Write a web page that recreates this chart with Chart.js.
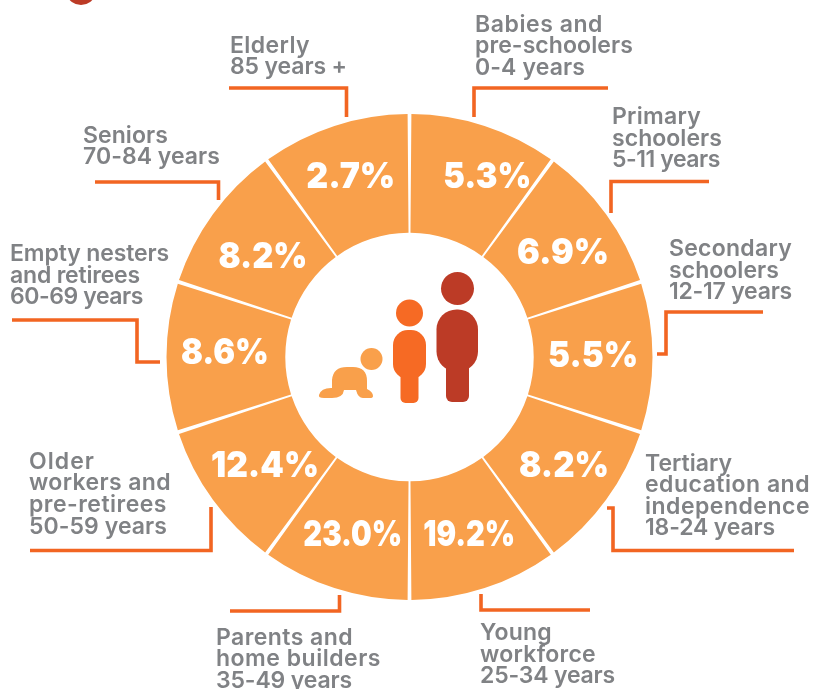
<!DOCTYPE html>
<html><head><meta charset="utf-8">
<style>html,body{margin:0;padding:0;background:#fff}canvas{display:block}</style>
<script src="https://cdn.jsdelivr.net/npm/chart.js@4/dist/chart.umd.min.js"></script>
</head><body><canvas id="c" width="814" height="689"></canvas>
<script>
// Data (clockwise from 12 o'clock)
const lifeStages = ["Babies and pre-schoolers 0-4 years","Primary schoolers 5-11 years","Secondary schoolers 12-17 years","Tertiary education and independence 18-24 years","Young workforce 25-34 years","Parents and home builders 35-49 years","Older workers and pre-retirees 50-59 years","Empty nesters and retirees 60-69 years","Seniors 70-84 years","Elderly 85 years +"];
const sharePercent = [5.3,6.9,5.5,8.2,19.2,23.0,12.4,8.6,8.2,2.7];
// The picture draws every life stage as an equal wedge, whatever its share.
const wedgeWeights = [1,1,1,1,1,1,1,1,1,1];

// Layout and style only
const valueNudge = [[21,-5],[5,4],[0,-1],[6,1],[3,4],[0,4],[4,1],[-1,-4],[2,8],[-2,-5]];
const valueWidths = [88,92,90,90,92,99,108,88,89,89];
const calloutLines = [
 {x:475,y:[32,53,75],r:[603,633,585],t:["Babies and","pre-schoolers","0-4 years"]},
 {x:612,y:[124,146,167],r:[701,722,720],t:["Primary","schoolers","5-11 years"]},
 {x:669,y:[256,278,299],r:[792,779,792],t:["Secondary","schoolers","12-17 years"]},
 {x:645,y:[471,492,514,535],r:[732,810,810,775],t:["Tertiary","education and","independence","18-24 years"]},
 {x:480,y:[640,662,683],r:[552,596,615],t:["Young","workforce","25-34 years"]},
 {x:216,y:[645,666,688],r:[353,381,352],t:["Parents and","home builders","35-49 years"]},
 {x:29,y:[469,490,512,534],r:[95,171,167,167],t:["Older","workers and","pre-retirees","50-59 years"]},
 {x:10,y:[261,283,304],r:[169,140,143],t:["Empty nesters","and retirees","60-69 years"]},
 {x:83,y:[143,164],r:[168,220],t:["Seniors","70-84 years"]},
 {x:230,y:[53,74],r:[310,347],t:["Elderly","85 years +"]}
];
const leaderPaths = [
 [[474,117],[474,88],[608,88]],
 [[611,213],[611,181.5],[709,181.5]],
 [[763,312],[666,312],[666,354],[657,354]],
 [[607,508],[613,508],[613,550.5],[794,550.5]],
 [[481,594],[481,610],[590,610]],
 [[230,611],[339.5,611],[339.5,595]],
 [[211,507],[211,550.5],[30,550.5]],
 [[12,320],[137,320],[137,362],[160,362]],
 [[95,182],[218.5,182],[218.5,200]],
 [[229,88],[346.5,88],[346.5,117]]
];
const ORANGE="#F9A04B", LEADER="#F26522", GREY="#808285", RUST="#BC3B26";

function rr(ctx,x,y,w,h,r){ctx.beginPath();ctx.roundRect(x,y,w,h,r);ctx.fill();}
function circle(ctx,x,y,r){ctx.beginPath();ctx.arc(x,y,r,0,Math.PI*2);ctx.fill();}
function drawPeople(ctx){
  ctx.fillStyle=RUST;
  circle(ctx,457.5,288.5,16.5);
  rr(ctx,436.5,309.5,41.5,62,[20,20,20,20]);
  rr(ctx,446,360,23,42,[0,0,6,6]);
  ctx.fillStyle="#F66A24";
  circle(ctx,409.5,313,13.5);
  rr(ctx,393,330,33,49,[15,15,15,15]);
  rr(ctx,400.5,365,18,38,[0,0,5,5]);
  ctx.fillStyle=ORANGE;
  circle(ctx,371.5,359,11);
  ctx.beginPath();
  ctx.moveTo(332,398);
  ctx.lineTo(324,398);
  ctx.quadraticCurveTo(318,398,319,395);
  ctx.quadraticCurveTo(321,388,331,388);
  ctx.lineTo(332,388);
  ctx.lineTo(332,380);
  ctx.quadraticCurveTo(333,367,347,367);
  ctx.lineTo(353,367);
  ctx.quadraticCurveTo(367,367,367,381);
  ctx.lineTo(367,389);
  ctx.quadraticCurveTo(373,392,373,396);
  ctx.quadraticCurveTo(373,398,370,398);
  ctx.lineTo(363,398);
  ctx.quadraticCurveTo(358,398,356,390);
  ctx.lineTo(344,390);
  ctx.quadraticCurveTo(343,398,332,398);
  ctx.fill();
}
const annotate={id:"annotate",afterDatasetsDraw(chart){
  const ctx=chart.ctx, arcs=chart.getDatasetMeta(0).data;
  ctx.save();
  ctx.fillStyle="#fff";
  ctx.textAlign="center";ctx.textBaseline="middle";
  ctx.font="900 36px Inter, sans-serif";
  arcs.forEach((a,i)=>{
    const p=a.getCenterPoint(), s=sharePercent[i].toFixed(1)+"%";
    const fit=valueWidths[i]/ctx.measureText(s).width;
    ctx.save();
    ctx.translate(p.x+valueNudge[i][0],p.y+valueNudge[i][1]);
    ctx.scale(fit,1);
    ctx.fillText(s,0,0);
    ctx.restore();
  });
  ctx.strokeStyle=LEADER;ctx.lineWidth=3.6;ctx.lineJoin="miter";
  leaderPaths.forEach(l=>{ctx.beginPath();l.forEach((p,j)=>j?ctx.lineTo(p[0],p[1]):ctx.moveTo(p[0],p[1]));ctx.stroke();});
  ctx.fillStyle=GREY;ctx.textAlign="left";ctx.textBaseline="alphabetic";
  ctx.font="600 23px Inter, sans-serif";
  calloutLines.forEach(c=>c.t.forEach((s,j)=>{
    ctx.letterSpacing="0px";
    const natural=ctx.measureText(s).width;
    ctx.letterSpacing=((c.r[j]-c.x-natural)/s.length).toFixed(2)+"px";
    ctx.fillText(s,c.x,c.y[j]);
  }));
  ctx.letterSpacing="0px";
  drawPeople(ctx);
  // cropped fragment of the heading at the top edge
  ctx.fillStyle=RUST;ctx.beginPath();ctx.ellipse(81,-5,13,10,0,0,Math.PI*2);ctx.fill();
  ctx.restore();
}};
new Chart(document.getElementById("c"),{
  type:"doughnut",
  plugins:[annotate],
  data:{labels:lifeStages,datasets:[{data:wedgeWeights,backgroundColor:ORANGE,borderWidth:0,spacing:9}]},
  options:{responsive:false,animation:false,cutout:"50.2%",
    layout:{padding:{left:166.5,right:161.5,top:114,bottom:89}},
    plugins:{legend:{display:false},tooltip:{enabled:false}}}
});
</script></body></html>
